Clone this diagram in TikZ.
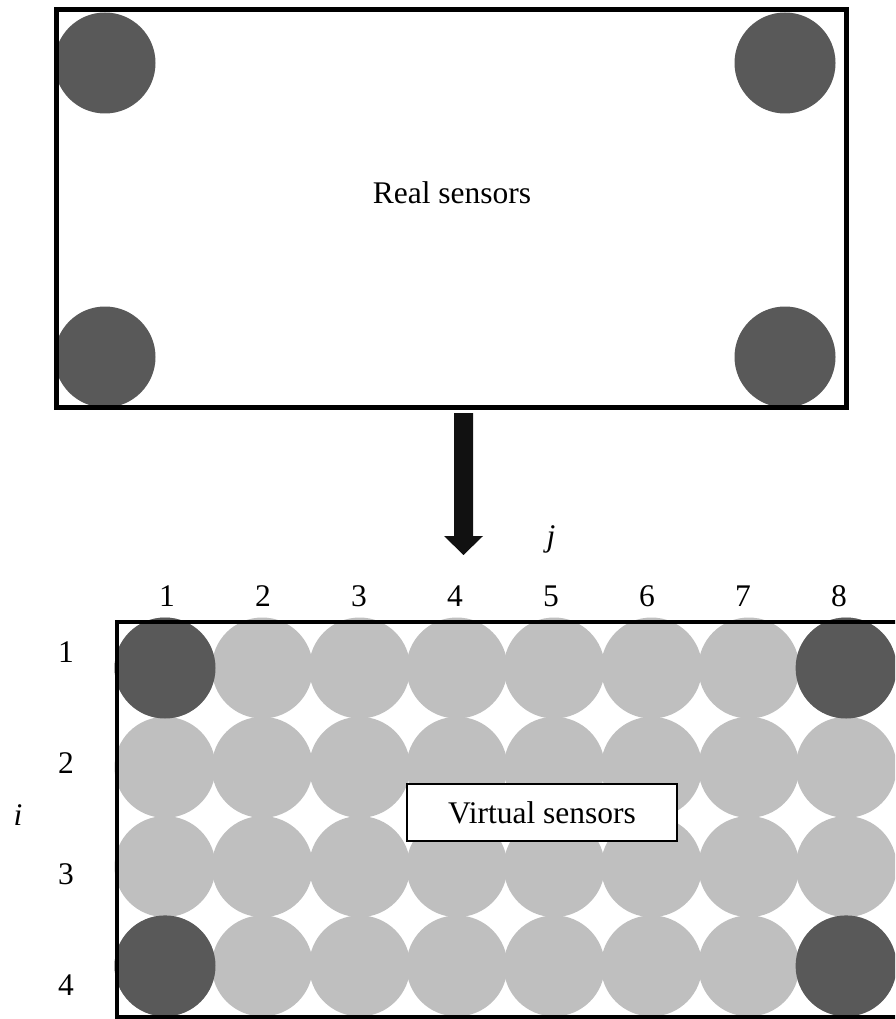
\documentclass[tikz,border=0pt]{standalone}
\usepackage{fontspec}
\setmainfont{Liberation Serif}
\definecolor{realgray}{HTML}{595959}
\definecolor{virtgray}{HTML}{BFBFBF}
\definecolor{arrowblack}{HTML}{111111}
\begin{document}
\begin{tikzpicture}[x=1pt,y=-1pt,
  every node/.style={font=\fontsize{31.5}{36}\selectfont},
  realsensor/.style={circle,fill=realgray,minimum size=101pt,inner sep=0pt},
  virtsensor/.style={circle,fill=virtgray,minimum size=101pt,inner sep=0pt},
  frame/.style={draw=black,line width=4.6pt},
  lbl/.style={anchor=base,inner sep=0pt}]
\useasboundingbox (0,0) rectangle (895,1019);
\clip (0,0) rectangle (895,1019);

% upper panel: four real sensors in the corners
\node[realsensor] (r11) at (105,63) {};
\node[realsensor] (r18) at (785,63) {};
\node[realsensor] (r41) at (105,357) {};
\node[realsensor] (r48) at (785,357) {};
\draw[frame] (56.5,9.5) rectangle (846.5,407.5);
\node[lbl] (realtxt) at (452,203) {Real sensors};

% block arrow
\fill[arrowblack] (454,413) -- (473,413) -- (473,536) -- (483,536)
  -- (463.5,555) -- (444,536) -- (454,536) -- cycle;

% lower panel: 4 x 8 grid of sensors
\foreach \r in {1,...,4}{
  \foreach \c in {1,...,8}{
    \pgfmathsetmacro{\cx}{165+97.3*(\c-1)}
    \pgfmathsetmacro{\cy}{668+99.3*(\r-1)}
    \node[virtsensor] (v\r\c) at (\cx,\cy) {};
  }
}
\foreach \r/\c in {1/1,1/8,4/1,4/8}{
  \pgfmathsetmacro{\cx}{165+97.3*(\c-1)}
  \pgfmathsetmacro{\cy}{668+99.3*(\r-1)}
  \node[realsensor] (g\r\c) at (\cx,\cy) {};
}
\draw[draw=black,line width=4pt] (116.5,621.5) rectangle (900,1017);

\node[draw=black,line width=2pt,fill=white,minimum width=270pt,
  minimum height=57pt,inner sep=0pt] (virttxt) at (542,812.5) {Virtual sensors};

% index labels
\node[lbl] (jlbl) at (551,546) {\itshape j};
\foreach \c in {1,...,8}{
  \pgfmathsetmacro{\lx}{167+96*(\c-1)}
  \node[lbl] (col\c) at (\lx,606) {\c};
}
\node[lbl] (ilbl) at (18,825) {\itshape i};
\foreach \r in {1,...,4}{
  \pgfmathsetmacro{\ly}{662+111.3*(\r-1)}
  \node[lbl] (row\r) at (66,\ly) {\r};
}
\end{tikzpicture}
\end{document}
